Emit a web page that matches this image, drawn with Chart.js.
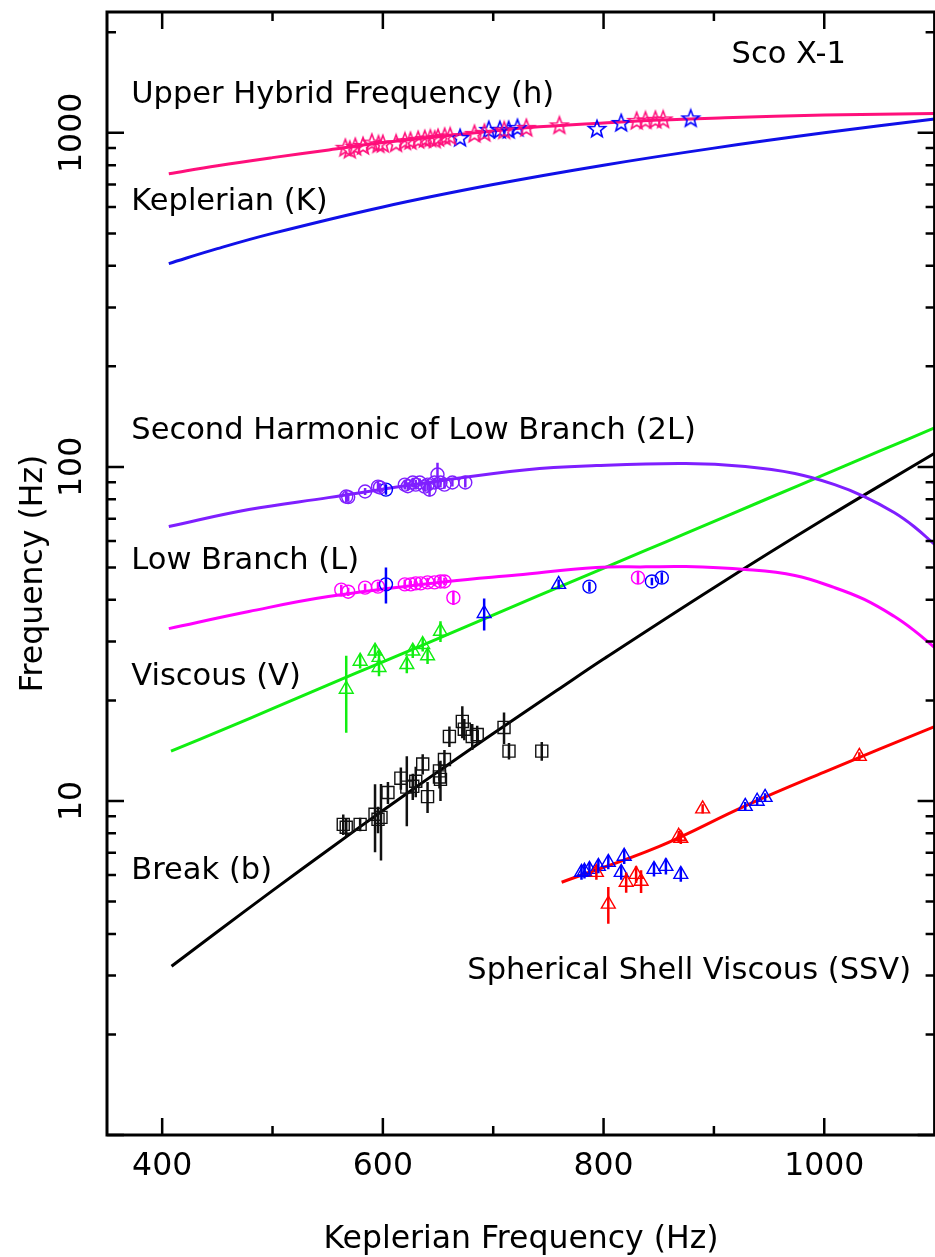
<!DOCTYPE html>
<html>
<head>
<meta charset="utf-8">
<script src="https://cdn.jsdelivr.net/npm/chart.js@4.4.0/dist/chart.umd.min.js"></script>
<style>
  html, body { margin: 0; padding: 0; background: #fff; overflow: hidden; }
  #wrap { width: 945px; height: 1257px; }
</style>
</head>
<body>
<div id="wrap"><canvas id="chart" width="945" height="1257"></canvas></div>
<script>
// ---- model curves ----
var hybCurveX = [406, 450, 500, 551, 600, 650, 700, 730, 800, 850, 910, 1000, 1100];
var hybCurveY = [754, 797, 843, 889, 935, 975, 1012, 1035, 1070, 1092, 1109, 1130, 1142];
var kepCurveX = [406, 450, 500, 600, 700, 800, 900, 1000, 1100];
var kepCurveY = [406, 450, 500, 600, 700, 800, 900, 1000, 1100];
var harmCurveX = [406, 478.6, 550.6, 640.5, 730.5, 793.5, 874.4, 928.4, 973.4, 1009.4, 1036.3, 1063.3, 1081.3, 1100];
var harmCurveY = [66.3, 74.5, 80.9, 89.8, 98.1, 100.9, 102.3, 100.2, 95.5, 88.5, 81.5, 73.0, 66.3, 58.6];
var lowCurveX = [406, 478.6, 550.6, 658.5, 721.5, 793.5, 838.4, 874.4, 928.4, 973.4, 1009.4, 1036.3, 1063.3, 1081.3, 1100];
var lowCurveY = [32.8, 36.9, 40.9, 45.4, 47.5, 50.0, 50.2, 50.3, 49.3, 47.3, 43.5, 40.1, 35.7, 32.4, 28.8];
var viscCurveX = [408, 460, 500, 551, 600, 686, 740, 838, 874, 950, 1000, 1050, 1100];
var viscCurveY = [14.1, 16.6, 18.9, 22.3, 26.1, 34.4, 41.0, 56.2, 63.1, 80.7, 94.8, 111.4, 130.9];
var breakCurveX = [408.5, 450, 500, 551, 600, 650, 700, 757.5, 800, 900, 1000, 1100];
var breakCurveY = [3.2, 4.06, 5.39, 7.16, 9.36, 12.24, 15.93, 21.4, 26.6, 43.5, 69.8, 109.8];
var ssvCurveX = [762, 850, 928, 1000, 1100];
var ssvCurveY = [5.71, 7.3, 9.65, 12.2, 16.7];

// ---- measured QPO frequencies ----
var hybPinkX = [566, 570, 575, 582, 590, 596, 600, 612, 620, 625, 632, 638, 643, 647, 650, 656, 661, 683, 692, 710, 730, 760, 830, 838, 847, 854];
var hybPinkY = [902, 890, 908, 914, 935, 924, 927, 930, 943, 946, 953, 958, 962, 955, 966, 973, 976, 993, 1000, 1017, 1035, 1053, 1086, 1090, 1094, 1097];
var hybBlueX = [670, 696, 706, 714, 722, 794, 816, 879];
var hybBlueY = [966, 1021, 1021, 1021, 1035, 1028, 1071, 1105];

var harmPurpX = [566.8, 568.6, 583.9, 595.6, 597.4, 619.9, 622.6, 627.1, 629.8, 633.4, 637.9, 640.5, 642.3, 646.8, 649.5, 652.2, 655.8, 663, 674.7];
var harmPurpY = [81.5, 81.2, 84.4, 87.3, 86.8, 88.5, 87.5, 89.8, 88.5, 89.8, 87.3, 88.5, 85.5, 89.8, 94.9, 89.8, 88.5, 89.8, 89.8];
var harmPurpErr = [3, 2.5, 2, 3, 2.5, 3, 2.5, 3, 3, 2.5, 3, 3.5, 4, 3, 8, 3, 2.5, 2.5, 3];
var harmBlueX = [602.8];
var harmBlueY = [85.5];
var harmBlueErr = [3];

var lowMagX = [562.3, 568.6, 583.9, 595.6, 619.9, 625.3, 629.8, 634.3, 640.5, 646.8, 652.2, 655.8, 663.9, 831.2];
var lowMagY = [42.9, 42.3, 43.5, 43.8, 44.5, 44.5, 44.8, 44.8, 45.1, 45.1, 45.4, 45.4, 40.6, 46.6];
var lowMagErr = [1.5, 1.2, 1.2, 1.5, 1.5, 1.2, 1.5, 1.2, 1.5, 1.2, 1.5, 1.2, 2, 2];
var lowBlueX = [602.8, 787.2, 843.8, 852.8];
var lowBlueY = [44.5, 43.8, 45.4, 46.6];
var lowBlueErr = [5.5, 1.5, 1.2, 1.8];

var viscGreenX = [566.8, 579.4, 592.9, 596.5, 596.5, 621.7, 627.1, 636.1, 640.5, 652.2];
var viscGreenY = [21.6, 26.2, 28.1, 26.9, 25.1, 25.6, 28.1, 29.4, 27.2, 32.2];
var viscGreenErr = [5.6, 1.3, 1.3, 1.3, 1.5, 1.5, 1.3, 1.4, 1.5, 2.3];
var viscBlueX = [691.8, 759.3];
var viscBlueY = [36.4, 44.5];
var viscBlueErr = [4, 1.5];

var breakX = [564.1, 566.8, 579.4, 592.9, 595.6, 598.3, 604.6, 616.3, 621.7, 627.1, 629.8, 636.1, 640.5, 651.3, 651.3, 652.2, 655.8, 660.3, 672, 673.8, 681, 685.5, 709.8, 714.3, 744];
var breakY = [8.51, 8.34, 8.51, 9.12, 8.81, 8.93, 10.6, 11.7, 11.0, 11.06, 11.45, 12.9, 10.3, 11.8, 12.3, 11.6, 13.3, 15.6, 17.3, 16.4, 15.6, 15.8, 16.6, 14.1, 14.1];
var breakErr = [0.6, 0.5, 0.4, 2.1, 0.8, 2.3, 0.8, 0.9, 2.6, 1.0, 1.2, 0.9, 1.1, 0.9, 0.8, 1.6, 0.9, 1.1, 1.9, 1.2, 1.4, 1.0, 1.8, 0.8, 0.9];

var ssvRedX = [793.5, 804.3, 820.5, 829.5, 834, 868.1, 870, 889.8, 1031.8];
var ssvRedY = [6.11, 4.91, 5.71, 6.03, 5.75, 7.84, 7.73, 9.47, 13.6];
var ssvRedErr = [0.3, 0.62, 0.4, 0.35, 0.45, 0.3, 0.3, 0.3, 0.4];
var ssvBlueX = [780, 782.7, 787.2, 795.3, 804.3, 816, 818.7, 845.7, 856.5, 870, 928.4, 939.2, 946.4];
var ssvBlueY = [6.11, 6.16, 6.24, 6.37, 6.55, 6.11, 6.83, 6.24, 6.37, 6.03, 9.63, 9.98, 10.25];
var ssvBlueErr = [0.3, 0.3, 0.3, 0.3, 0.3, 0.3, 0.35, 0.3, 0.35, 0.3, 0.3, 0.3, 0.3];

// ---- axes ----
var xMajor = [400, 600, 800, 1000];
var xMinor = [500, 700, 900];
var xTickLabels = ['400', '600', '800', '1000'];
var yLabelVals = [10, 100, 1000];
var yTickLabels = ['10', '100', '1000'];

// annotation text, placed in data coordinates (x = left edge, y = baseline)
var notes = [
  ['Upper Hybrid Frequency (h)', 372, 1229],
  ['Keplerian (K)', 372, 588],
  ['Second Harmonic of Low Branch (2L)', 372, 121.5],
  ['Low Branch (L)', 372, 49.3],
  ['Viscous (V)', 372, 22.3],
  ['Break (b)', 372, 5.83],
  ['Spherical Shell Viscous (SSV)', 676.5, 2.93],
  ['Sco X-1', 916, 1620]
];

var FONT = '"DejaVu Sans", sans-serif';
var PINK = '#ff0f7b', BLUE = '#0000ff', KBLUE = '#1010e8', PURPLE = '#7f1fff',
    MAGENTA = '#ff00ff', GREEN = '#11ee11', RED = '#ff0000';

function pts(xs, ys, es) {
  return xs.map(function (x, i) { return { x: x, y: ys[i], e: es ? es[i] : 0 }; });
}

function makeStar(color) {
  var c = document.createElement('canvas');
  c.width = 22; c.height = 22;
  var g = c.getContext('2d');
  g.strokeStyle = color;
  g.lineWidth = 1.6;
  g.beginPath();
  for (var i = 0; i < 10; i++) {
    var r = i % 2 ? 3.8 : 9;
    var a = -Math.PI / 2 + i * Math.PI / 5;
    g.lineTo(11 + r * Math.cos(a), 11.5 + r * Math.sin(a));
  }
  g.closePath();
  g.stroke();
  return c;
}

function curve(xs, ys, color) {
  return {
    type: 'line', data: pts(xs, ys), borderColor: color, borderWidth: 3,
    showLine: true, pointRadius: 0, tension: 0.4, order: 2
  };
}

function marks(xs, ys, es, color, style, r) {
  return {
    data: pts(xs, ys, es), borderColor: color, backgroundColor: 'rgba(0,0,0,0)',
    pointStyle: style, pointRadius: r, pointBorderWidth: 1.4, showLine: false,
    errColor: color, order: 1
  };
}

var errorBars = {
  id: 'errorBars',
  afterDatasetsDraw: function (chart) {
    var ctx = chart.ctx, a = chart.chartArea, x = chart.scales.x, y = chart.scales.y;
    ctx.save();
    ctx.beginPath();
    ctx.rect(a.left, a.top, a.right - a.left, a.bottom - a.top);
    ctx.clip();
    chart.data.datasets.forEach(function (ds) {
      if (!ds.errColor) return;
      ctx.strokeStyle = ds.errColor;
      ctx.lineWidth = 2.5;
      ds.data.forEach(function (p) {
        if (!p.e) return;
        var px = x.getPixelForValue(p.x);
        ctx.beginPath();
        ctx.moveTo(px, y.getPixelForValue(p.y + p.e));
        ctx.lineTo(px, y.getPixelForValue(Math.max(p.y - p.e, 0.5)));
        ctx.stroke();
      });
    });
    ctx.restore();
  }
};

var frame = {
  id: 'frame',
  afterDraw: function (chart) {
    var ctx = chart.ctx, a = chart.chartArea, x = chart.scales.x, y = chart.scales.y;
    ctx.save();
    ctx.strokeStyle = '#000';
    ctx.lineWidth = 3;
    ctx.strokeRect(a.left, a.top, a.right - a.left, a.bottom - a.top);

    ctx.lineWidth = 2.5;
    ctx.beginPath();
    xMajor.concat(xMinor).forEach(function (v) {
      var len = xMajor.indexOf(v) >= 0 ? 17 : 9;
      var px = x.getPixelForValue(v);
      ctx.moveTo(px, a.bottom); ctx.lineTo(px, a.bottom - len);
      ctx.moveTo(px, a.top); ctx.lineTo(px, a.top + len);
    });
    [1, 10, 100, 1000].forEach(function (dec) {
      for (var m = 1; m <= 9; m++) {
        var v = dec * m;
        if (v > y.max) break;
        var len = m === 1 ? 17 : 9;
        var py = y.getPixelForValue(v);
        ctx.moveTo(a.left, py); ctx.lineTo(a.left + len, py);
        ctx.moveTo(a.right, py); ctx.lineTo(a.right - len, py);
      }
    });
    ctx.stroke();

    ctx.fillStyle = '#000';
    ctx.font = '31.5px ' + FONT;
    ctx.textAlign = 'center';
    ctx.textBaseline = 'middle';
    xTickLabels.forEach(function (t, i) {
      ctx.fillText(t, x.getPixelForValue(xMajor[i]), a.bottom + 32);
    });
    yTickLabels.forEach(function (t, i) {
      ctx.save();
      ctx.translate(a.left - 34, y.getPixelForValue(yLabelVals[i]));
      ctx.rotate(-Math.PI / 2);
      ctx.fillText(t, 0, 0);
      ctx.restore();
    });
    ctx.textBaseline = 'alphabetic';
    ctx.fillText('Keplerian Frequency (Hz)', 521, 1248);
    ctx.save();
    ctx.translate(42, (a.top + a.bottom) / 2);
    ctx.rotate(-Math.PI / 2);
    ctx.fillText('Frequency (Hz)', 0, 0);
    ctx.restore();

    ctx.font = '30.5px ' + FONT;
    ctx.textAlign = 'left';
    notes.forEach(function (n) {
      ctx.fillText(n[0], x.getPixelForValue(n[1]), y.getPixelForValue(n[2]));
    });
    ctx.restore();
  }
};

var starPink = makeStar(PINK), starBlue = makeStar(BLUE);

new Chart(document.getElementById('chart'), {
  type: 'scatter',
  data: {
    datasets: [
      marks(hybPinkX, hybPinkY, null, PINK, starPink, 9),
      marks(hybBlueX, hybBlueY, null, BLUE, starBlue, 9),
      marks(harmPurpX, harmPurpY, harmPurpErr, PURPLE, 'circle', 6.5),
      marks(harmBlueX, harmBlueY, harmBlueErr, BLUE, 'circle', 6.5),
      marks(lowMagX, lowMagY, lowMagErr, MAGENTA, 'circle', 6.5),
      marks(lowBlueX, lowBlueY, lowBlueErr, BLUE, 'circle', 6.5),
      marks(viscGreenX, viscGreenY, viscGreenErr, GREEN, 'triangle', 8),
      marks(viscBlueX, viscBlueY, viscBlueErr, BLUE, 'triangle', 8),
      marks(breakX, breakY, breakErr, '#111', 'rect', 8.5),
      marks(ssvRedX, ssvRedY, ssvRedErr, RED, 'triangle', 8),
      marks(ssvBlueX, ssvBlueY, ssvBlueErr, BLUE, 'triangle', 8),
      curve(hybCurveX, hybCurveY, PINK),
      curve(kepCurveX, kepCurveY, KBLUE),
      curve(harmCurveX, harmCurveY, PURPLE),
      curve(lowCurveX, lowCurveY, MAGENTA),
      curve(viscCurveX, viscCurveY, GREEN),
      curve(breakCurveX, breakCurveY, '#000'),
      curve(ssvCurveX, ssvCurveY, RED)
    ]
  },
  options: {
    responsive: false,
    animation: false,
    layout: { padding: { left: 107, top: 12, right: 4, bottom: 122 } },
    scales: {
      x: { type: 'linear', min: 350, max: 1100, display: false },
      y: { type: 'logarithmic', min: 1, max: 2300, display: false }
    },
    plugins: { legend: { display: false }, tooltip: { enabled: false } }
  },
  plugins: [errorBars, frame]
});
</script>
</body>
</html>
